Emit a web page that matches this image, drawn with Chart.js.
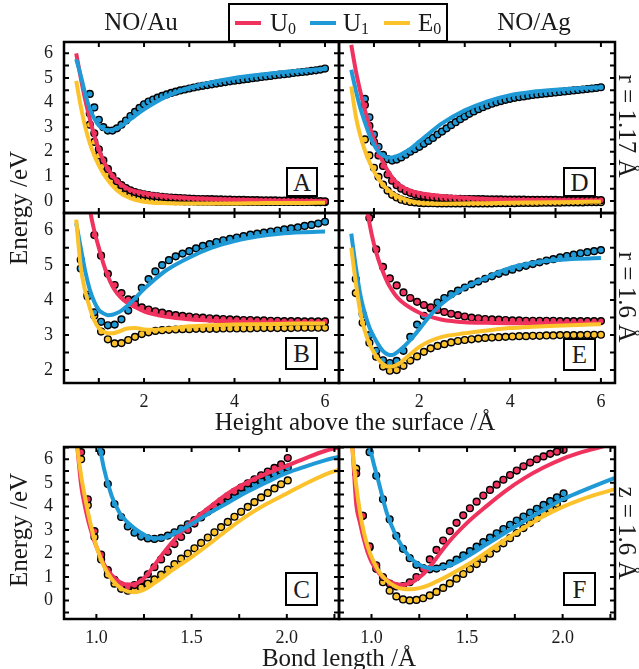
<!DOCTYPE html>
<html>
<head>
<meta charset="utf-8">
<title>NO/Au and NO/Ag potential energy curves</title>
<script src="https://cdn.jsdelivr.net/npm/chart.js@4.4.1/dist/chart.umd.min.js"></script>
<style>
  body { margin: 0; width: 639px; height: 669px; position: relative; overflow: hidden; background: #fff;
         font-family: "Liberation Serif", serif; color: #1a1a1a; }
  canvas { position: absolute; left: 0; top: 0; }
  .txt { position: absolute; white-space: nowrap; font-size: 25px; line-height: 25px; }
  .ctr { transform: translateX(-50%); }
  .rotl { transform: translate(-50%, -50%) rotate(-90deg); }
  .rotr { transform: translate(-50%, -50%) rotate(90deg); }
  .tag { position: absolute; box-sizing: border-box; border: 2px solid #000; background: #fff;
         font-size: 25px; line-height: 25px; display: flex; align-items: center; justify-content: center; }
  #legend { position: absolute; left: 228px; top: 3px; width: 220px; height: 39px; box-sizing: border-box;
            border: 2px solid #000; background: #fff; }
  #legend .key { position: absolute; top: 16px; width: 26px; height: 4px; }
  #legend .ktxt { position: absolute; top: 5px; font-size: 25px; line-height: 25px; }
  sub { font-size: 16px; vertical-align: -3px; line-height: 0; }
</style>
</head>
<body>

<canvas id="pA" width="639" height="669"></canvas>
<canvas id="pB" width="639" height="669"></canvas>
<canvas id="pC" width="639" height="669"></canvas>
<canvas id="pD" width="639" height="669"></canvas>
<canvas id="pE" width="639" height="669"></canvas>
<canvas id="pF" width="639" height="669"></canvas>

<div class="txt ctr" style="left:141px;top:9px;">NO/Au</div>
<div class="txt ctr" style="left:534px;top:9px;">NO/Ag</div>
<div class="txt ctr" style="left:355px;top:409px;">Height above the surface /Å</div>
<div class="txt ctr" style="left:339px;top:645px;">Bond length /Å</div>
<div class="txt rotl" style="left:18px;top:208px;">Energy /eV</div>
<div class="txt rotl" style="left:18px;top:530px;">Energy /eV</div>
<div class="txt rotr" style="left:627px;top:126px;">r = 1.17 Å</div>
<div class="txt rotr" style="left:627px;top:297px;">r = 1.6 Å</div>
<div class="txt rotr" style="left:627px;top:533px;">z = 1.6 Å</div>

<div class="tag" style="left:286px;top:167px;width:32px;height:30px;">A</div>
<div class="tag" style="left:563px;top:167px;width:33px;height:30px;">D</div>
<div class="tag" style="left:285px;top:337px;width:33px;height:33px;">B</div>
<div class="tag" style="left:563px;top:338px;width:33px;height:33px;">E</div>
<div class="tag" style="left:285px;top:572px;width:33px;height:34px;">C</div>
<div class="tag" style="left:563px;top:572px;width:33px;height:34px;">F</div>

<div id="legend">
  <span class="key" style="left:5px;background:#f0325f;"></span><span class="ktxt" style="left:40px;">U<sub>0</sub></span>
  <span class="key" style="left:80px;background:#1f9ad6;"></span><span class="ktxt" style="left:113px;">U<sub>1</sub></span>
  <span class="key" style="left:154px;background:#fcc22c;"></span><span class="ktxt" style="left:188px;">E<sub>0</sub></span>
</div>

<script>
// colours: U0, U1, E0
const seriesColors = ['#f0325f', '#1f9ad6', '#fcc22c'];

// ---- heights above the surface (Å) ----
// sample positions of the fitted curves
const zLine = [0.5, 0.6, 0.7, 0.8, 0.9, 1.0, 1.1, 1.2, 1.3, 1.4, 1.5, 1.6, 1.8, 2.0, 2.2, 2.5, 3.0, 3.5, 4.0, 4.5, 5.0, 5.5, 6.0];
// positions of the computed points, panels A and D
const zPtsA = [0.8, 0.9, 1.0, 1.1, 1.2, 1.3, 1.4, 1.5, 1.6, 1.7, 1.8, 1.9, 2.0, 2.1, 2.2, 2.3, 2.4, 2.5, 2.6, 2.7,
  2.8, 2.9, 3.0, 3.1, 3.2, 3.3, 3.4, 3.5, 3.6, 3.7, 3.8, 3.9, 4.0, 4.1, 4.2, 4.3, 4.4, 4.5, 4.6, 4.7,
  4.8, 4.9, 5.0, 5.1, 5.2, 5.3, 5.4, 5.5, 5.6, 5.7, 5.8, 5.9, 6.0];
// positions of the computed points, panels B and E
const zPtsB = [0.6, 0.75, 0.9, 1.05, 1.2, 1.35, 1.5, 1.65, 1.8, 1.95, 2.1, 2.25, 2.4, 2.55, 2.7, 2.85, 3.0, 3.15,
  3.3, 3.45, 3.6, 3.75, 3.9, 4.05, 4.2, 4.35, 4.5, 4.65, 4.8, 4.95, 5.1, 5.25, 5.4, 5.55, 5.7, 5.85, 6.0];

// ---- bond lengths (Å) ----
const rLine = [0.88, 0.9, 0.92, 0.94, 0.96, 0.98, 1.0, 1.04, 1.08, 1.12, 1.16, 1.2, 1.25, 1.3, 1.35, 1.4, 1.5, 1.6, 1.7, 1.8, 1.9, 2.0, 2.1, 2.2, 2.27];
const rPts = [0.92, 0.955, 0.99, 1.025, 1.06, 1.095, 1.13, 1.165, 1.2, 1.235, 1.27, 1.305, 1.34, 1.375, 1.41, 1.445,
  1.48, 1.515, 1.55, 1.585, 1.62, 1.655, 1.69, 1.725, 1.76, 1.795, 1.83, 1.865, 1.9, 1.935, 1.97, 2.005];

// ---- panel A: NO/Au, r = 1.17 Å ----
const aU0 = [6.0, 5.0, 4.1, 3.35, 2.65, 2.1, 1.65, 1.3, 1.03, 0.82, 0.66, 0.54, 0.4, 0.32, 0.26, 0.19, 0.12, 0.08, 0.05, 0.03, 0.01, 0.0, -0.01];
const aU1 = [5.76, 5.1, 4.35, 3.75, 3.35, 3.07, 2.93, 2.87, 2.88, 2.95, 3.05, 3.18, 3.46, 3.72, 3.95, 4.25, 4.6, 4.83, 5.0, 5.12, 5.22, 5.3, 5.37];
const aE0 = [4.88, 3.85, 3.0, 2.35, 1.85, 1.45, 1.12, 0.85, 0.62, 0.44, 0.3, 0.19, 0.05, -0.03, -0.07, -0.09, -0.1, -0.1, -0.1, -0.09, -0.08, -0.08, -0.07];
const aU0pts = [3.55, 2.75, 2.1, 1.65, 1.3, 1.02, 0.8, 0.64, 0.52, 0.43, 0.36, 0.31, 0.27, 0.24, 0.21, 0.19, 0.17, 0.15, 0.14, 0.13,
  0.12, 0.11, 0.1, 0.09, 0.08, 0.08, 0.07, 0.07, 0.06, 0.06, 0.05, 0.05, 0.04, 0.04, 0.04, 0.03, 0.03, 0.03, 0.02, 0.02,
  0.02, 0.02, 0.01, 0.01, 0.01, 0.01, 0.0, 0.0, 0.0, 0.0, -0.01, -0.01, -0.02];
const aU1pts = [4.35, 3.8, 3.3, 3.0, 2.86, 2.86, 2.95, 3.1, 3.27, 3.45, 3.62, 3.78, 3.93, 4.04, 4.12, 4.2, 4.27, 4.33, 4.39, 4.44,
  4.49, 4.53, 4.57, 4.61, 4.65, 4.68, 4.71, 4.74, 4.77, 4.8, 4.83, 4.86, 4.89, 4.91, 4.94, 4.96, 4.99, 5.01, 5.04, 5.06,
  5.08, 5.11, 5.13, 5.15, 5.17, 5.2, 5.22, 5.24, 5.26, 5.29, 5.31, 5.34, 5.38];
const aE0pts = [3.1, 2.4, 1.85, 1.42, 1.1, 0.85, 0.65, 0.5, 0.38, 0.29, 0.22, 0.16, 0.12, 0.09, 0.06, 0.04, 0.02, 0.01, 0.0, -0.01,
  -0.01, -0.02, -0.02, -0.02, -0.03, -0.03, -0.03, -0.03, -0.04, -0.04, -0.04, -0.04, -0.04, -0.04, -0.04, -0.04, -0.04, -0.04, -0.04, -0.04,
  -0.04, -0.04, -0.04, -0.04, -0.04, -0.04, -0.04, -0.04, -0.04, -0.04, -0.05, -0.05, -0.05];

// ---- panel D: NO/Ag, r = 1.17 Å ----
const dU0 = [6.34, 5.3, 4.45, 3.7, 3.05, 2.5, 2.0, 1.58, 1.24, 0.96, 0.75, 0.6, 0.42, 0.32, 0.26, 0.2, 0.13, 0.08, 0.05, 0.04, 0.03, 0.02, 0.02];
const dU1 = [5.33, 4.5, 3.78, 3.2, 2.68, 2.28, 2.0, 1.84, 1.77, 1.77, 1.82, 1.9, 2.12, 2.42, 2.72, 3.15, 3.68, 4.05, 4.3, 4.44, 4.52, 4.58, 4.62];
const dE0 = [4.65, 3.45, 2.65, 2.05, 1.58, 1.2, 0.9, 0.66, 0.47, 0.32, 0.2, 0.12, 0.0, -0.07, -0.1, -0.11, -0.1, -0.09, -0.07, -0.06, -0.05, -0.04, -0.03];
const dU0pts = [3.9, 3.05, 2.4, 1.85, 1.42, 1.07, 0.82, 0.64, 0.5, 0.4, 0.33, 0.27, 0.23, 0.2, 0.17, 0.15, 0.13, 0.12, 0.11, 0.1,
  0.09, 0.09, 0.08, 0.08, 0.07, 0.07, 0.07, 0.06, 0.06, 0.06, 0.06, 0.05, 0.05, 0.05, 0.05, 0.05, 0.04, 0.04, 0.04, 0.04,
  0.04, 0.04, 0.04, 0.03, 0.03, 0.03, 0.03, 0.03, 0.03, 0.03, 0.03, 0.03, 0.03];
const dU1pts = [4.15, 3.4, 2.7, 2.2, 1.87, 1.7, 1.64, 1.68, 1.77, 1.88, 2.0, 2.1, 2.2, 2.32, 2.44, 2.56, 2.7, 2.82, 2.95, 3.08,
  3.2, 3.32, 3.43, 3.54, 3.64, 3.73, 3.81, 3.88, 3.95, 4.01, 4.06, 4.11, 4.15, 4.19, 4.22, 4.25, 4.28, 4.31, 4.33, 4.35,
  4.37, 4.39, 4.41, 4.43, 4.45, 4.47, 4.49, 4.51, 4.53, 4.55, 4.57, 4.59, 4.62];
const dE0pts = [2.5, 1.85, 1.35, 0.98, 0.66, 0.42, 0.25, 0.14, 0.05, 0.0, -0.04, -0.06, -0.08, -0.09, -0.09, -0.09, -0.1, -0.1, -0.1, -0.1,
  -0.1, -0.1, -0.1, -0.1, -0.1, -0.1, -0.1, -0.1, -0.1, -0.09, -0.09, -0.09, -0.09, -0.09, -0.08, -0.08, -0.08, -0.08, -0.08, -0.07,
  -0.07, -0.07, -0.07, -0.07, -0.06, -0.06, -0.06, -0.06, -0.06, -0.05, -0.05, -0.05, -0.05];

// ---- panel B: NO/Au, r = 1.6 Å ----
const bU0 = [9.5, 8.4, 7.5, 6.6, 5.98, 5.5, 5.05, 4.68, 4.4, 4.2, 4.06, 3.95, 3.8, 3.68, 3.6, 3.52, 3.45, 3.41, 3.39, 3.37, 3.36, 3.35, 3.35];
const bU1 = [6.2, 5.5, 4.82, 4.3, 3.95, 3.72, 3.62, 3.57, 3.58, 3.63, 3.7, 3.8, 4.05, 4.32, 4.55, 4.86, 5.22, 5.5, 5.69, 5.82, 5.9, 5.94, 5.96];
const bE0 = [6.3, 4.95, 4.25, 3.78, 3.42, 3.2, 3.1, 3.05, 3.05, 3.08, 3.13, 3.18, 3.2, 3.16, 3.15, 3.18, 3.25, 3.28, 3.3, 3.31, 3.32, 3.33, 3.33];
const bU0pts = [null, null, 5.86, 5.27, 4.75, 4.43, 4.2, 4.02, 3.88, 3.79, 3.73, 3.68, 3.64, 3.6, 3.57, 3.55, 3.53, 3.51, 3.5,
  3.48, 3.47, 3.46, 3.45, 3.44, 3.43, 3.43, 3.42, 3.42, 3.41, 3.41, 3.4, 3.4, 3.4, 3.39, 3.39, 3.39, 3.39];
const bU1pts = [4.9, 4.1, 3.65, 3.38, 3.28, 3.3, 3.45, 3.7, 4.02, 4.35, 4.6, 4.82, 5.0, 5.14, 5.25, 5.33, 5.4, 5.48, 5.55,
  5.6, 5.66, 5.71, 5.75, 5.79, 5.83, 5.87, 5.9, 5.93, 5.96, 5.99, 6.02, 6.05, 6.08, 6.12, 6.15, 6.19, 6.24];
const bE0pts = [5.15, 4.15, 3.55, 3.1, 2.88, 2.76, 2.77, 2.86, 2.95, 3.03, 3.08, 3.12, 3.14, 3.15, 3.16, 3.17, 3.17, 3.18, 3.18,
  3.18, 3.18, 3.19, 3.19, 3.19, 3.19, 3.19, 3.2, 3.2, 3.2, 3.2, 3.2, 3.2, 3.21, 3.21, 3.21, 3.21, 3.21];

// ---- panel E: NO/Ag, r = 1.6 Å ----
const eU0 = [10.0, 9.0, 8.0, 7.0, 6.2, 5.6, 5.15, 4.8, 4.5, 4.28, 4.1, 3.97, 3.78, 3.64, 3.54, 3.44, 3.37, 3.35, 3.34, 3.34, 3.34, 3.34, 3.34];
const eU1 = [5.9, 4.95, 4.15, 3.62, 3.22, 2.95, 2.72, 2.54, 2.45, 2.43, 2.5, 2.6, 2.86, 3.17, 3.5, 3.9, 4.35, 4.66, 4.92, 5.07, 5.14, 5.18, 5.2];
const eE0 = [5.5, 4.5, 3.65, 3.12, 2.75, 2.5, 2.3, 2.17, 2.1, 2.1, 2.15, 2.23, 2.45, 2.66, 2.81, 2.95, 3.05, 3.13, 3.2, 3.24, 3.27, 3.29, 3.31];
const eU0pts = [null, null, 6.35, 5.45, 4.95, 4.62, 4.42, 4.22, 4.06, 3.95, 3.86, 3.79, 3.72, 3.66, 3.61, 3.57, 3.53, 3.5, 3.48,
  3.46, 3.45, 3.44, 3.43, 3.42, 3.42, 3.41, 3.41, 3.41, 3.41, 3.41, 3.4, 3.4, 3.4, 3.4, 3.4, 3.4, 3.4];
const eU1pts = [4.6, 3.6, 3.0, 2.55, 2.28, 2.2, 2.26, 2.55, 2.95, 3.3, 3.55, 3.76, 3.93, 4.06, 4.17, 4.27, 4.36, 4.45, 4.53,
  4.61, 4.68, 4.75, 4.81, 4.87, 4.93, 4.98, 5.03, 5.08, 5.13, 5.17, 5.22, 5.26, 5.3, 5.34, 5.37, 5.4, 5.43];
const eE0pts = [4.2, 3.35, 2.78, 2.38, 2.1, 1.98, 2.0, 2.12, 2.27, 2.39, 2.52, 2.62, 2.69, 2.74, 2.79, 2.83, 2.86, 2.88, 2.9,
  2.92, 2.93, 2.94, 2.95, 2.96, 2.97, 2.97, 2.98, 2.98, 2.99, 2.99, 3.0, 3.0, 3.0, 3.0, 3.01, 3.01, 3.01];

// ---- panel C: NO/Au, z = 1.6 Å ----
const cU0 = [8.0, 6.5, 4.9, 4.0, 3.3, 2.75, 2.3, 1.55, 1.08, 0.8, 0.68, 0.7, 0.95, 1.45, 2.0, 2.5, 3.35, 4.0, 4.6, 5.05, 5.41, 5.72, 6.05, 6.35, 6.5];
const cU1 = [null, null, null, null, null, null, 7.3, 5.6, 4.45, 3.75, 3.35, 3.07, 2.8, 2.65, 2.66, 2.8, 3.25, 3.75, 4.2, 4.65, 5.05, 5.42, 5.7, 5.95, 6.1];
const cE0 = [8.2, 6.5, 5.3, 4.4, 3.6, 2.9, 2.3, 1.45, 0.92, 0.58, 0.4, 0.36, 0.46, 0.72, 1.0, 1.3, 1.85, 2.45, 3.08, 3.65, 4.13, 4.55, 4.97, 5.35, 5.55];
const cU0pts = [6.3, 4.3, 2.95, 1.95, 1.3, 0.88, 0.65, 0.58, 0.66, 0.85, 1.12, 1.42, 1.75, 2.07, 2.4, 2.7,
  3.0, 3.27, 3.53, 3.78, 4.0, 4.22, 4.43, 4.62, 4.8, 4.98, 5.15, 5.32, 5.48, 5.63, 5.78, 6.05];
const cU1pts = [null, null, null, 6.3, 4.95, 4.1, 3.55, 3.15, 2.88, 2.72, 2.64, 2.62, 2.66, 2.76, 2.9, 3.06,
  3.24, 3.42, 3.6, 3.78, 3.96, 4.13, 4.3, 4.46, 4.62, 4.78, 4.93, 5.08, 5.22, 5.36, 5.5, 5.65];
const cE0pts = [6.0, 4.05, 2.7, 1.75, 1.1, 0.72, 0.5, 0.42, 0.45, 0.56, 0.72, 0.9, 1.1, 1.32, 1.55, 1.78,
  2.0, 2.22, 2.45, 2.68, 2.9, 3.12, 3.34, 3.56, 3.77, 3.98, 4.18, 4.38, 4.57, 4.76, 4.94, 5.1];

// ---- panel F: NO/Ag, z = 1.6 Å ----
const fU0 = [7.8, 6.5, 4.1, 3.3, 2.6, 2.05, 1.65, 1.15, 0.88, 0.72, 0.67, 0.73, 0.98, 1.38, 1.92, 2.45, 3.3, 4.0, 4.65, 5.2, 5.65, 6.02, 6.3, 6.52, 6.65];
const fU1 = [null, null, null, null, null, 7.0, 6.2, 4.95, 3.72, 2.9, 2.3, 1.85, 1.52, 1.38, 1.37, 1.46, 1.87, 2.38, 2.88, 3.38, 3.85, 4.3, 4.65, 4.98, 5.2];
const fE0 = [7.6, 6.4, 4.9, 3.75, 2.9, 2.3, 1.85, 1.22, 0.85, 0.62, 0.5, 0.48, 0.53, 0.66, 0.85, 1.05, 1.51, 2.05, 2.6, 3.1, 3.58, 3.98, 4.3, 4.56, 4.72];
const fU0pts = [5.4, 3.6, 2.3, 1.5, 1.0, 0.72, 0.6, 0.62, 0.78, 1.0, 1.35, 1.75, 2.15, 2.55, 2.95, 3.3,
  3.62, 3.92, 4.2, 4.46, 4.7, 4.92, 5.13, 5.33, 5.52, 5.7, 5.86, 6.0, 6.12, 6.23, 6.32, 6.4];
const fU1pts = [null, null, 6.3, 5.3, 4.3, 3.45, 2.75, 2.2, 1.8, 1.52, 1.38, 1.33, 1.36, 1.45, 1.58, 1.74,
  1.92, 2.1, 2.29, 2.48, 2.67, 2.86, 3.04, 3.22, 3.4, 3.57, 3.74, 3.9, 4.06, 4.22, 4.38, 4.55];
const fE0pts = [5.6, 3.6, 2.25, 1.35, 0.78, 0.42, 0.18, 0.05, 0.01, 0.03, 0.1, 0.22, 0.37, 0.54, 0.73, 0.93,
  1.13, 1.34, 1.55, 1.77, 1.99, 2.21, 2.43, 2.65, 2.87, 3.08, 3.29, 3.5, 3.7, 3.9, 4.1, 4.35];

// ---- ticks ----
const zTicks = [1, 2, 3, 4, 5, 6];
const zLabels = [2, 4, 6];
const rTicks = [1.0, 1.25, 1.5, 1.75, 2.0, 2.25];
const rLabels = [1.0, 1.5, 2.0];
const yTicksA = [0, 0.5, 1, 1.5, 2, 2.5, 3, 3.5, 4, 4.5, 5, 5.5, 6];
const yLabelsA = [0, 1, 2, 3, 4, 5, 6];
const yTicksB = [2, 2.5, 3, 3.5, 4, 4.5, 5, 5.5, 6];
const yLabelsB = [2, 3, 4, 5, 6];
const yTicksC = [-0.5, 0, 0.5, 1, 1.5, 2, 2.5, 3, 3.5, 4, 4.5, 5, 5.5, 6, 6.5];

// frame with inward ticks on all four sides
const framePlugin = {
    id: 'frame',
    afterDatasetsDraw(chart, args, opts) {
        const { ctx, chartArea: a, scales } = chart;
        ctx.save();
        ctx.strokeStyle = '#000';
        ctx.lineWidth = 2;
        ctx.beginPath();
        opts.xTicks.forEach(v => {
            const px = scales.x.getPixelForValue(v);
            ctx.moveTo(px, a.bottom); ctx.lineTo(px, a.bottom - 5);
            ctx.moveTo(px, a.top); ctx.lineTo(px, a.top + 5);
        });
        opts.yTicks.forEach(v => {
            const py = scales.y.getPixelForValue(v);
            ctx.moveTo(a.left, py); ctx.lineTo(a.left + 5, py);
            ctx.moveTo(a.right, py); ctx.lineTo(a.right - 5, py);
        });
        ctx.stroke();
        ctx.lineWidth = 2.5;
        ctx.strokeRect(a.left, a.top, a.right - a.left, a.bottom - a.top);
        ctx.restore();
    }
};

const panels = [
    { id: 'pA', box: [64, 42, 339, 213], xr: [0.23, 6.31], yr: [-0.49, 6.46], lx: zLine, lines: [aU0, aU1, aE0],
      px: zPtsA, pts: [aU0pts, aU1pts, aE0pts], xt: zTicks, yt: yTicksA, xl: null, yl: yLabelsA },
    { id: 'pD', box: [339, 42, 615, 213], xr: [0.23, 6.31], yr: [-0.49, 6.46], lx: zLine, lines: [dU0, dU1, dE0],
      px: zPtsA, pts: [dU0pts, dU1pts, dE0pts], xt: zTicks, yt: yTicksA, xl: null, yl: null },
    { id: 'pB', box: [64, 213, 339, 383], xr: [0.23, 6.31], yr: [1.63, 6.49], lx: zLine, lines: [bU0, bU1, bE0],
      px: zPtsB, pts: [bU0pts, bU1pts, bE0pts], xt: zTicks, yt: yTicksB, xl: zLabels, yl: yLabelsB },
    { id: 'pE', box: [339, 213, 615, 383], xr: [0.23, 6.31], yr: [1.63, 6.49], lx: zLine, lines: [eU0, eU1, eE0],
      px: zPtsB, pts: [eU0pts, eU1pts, eE0pts], xt: zTicks, yt: yTicksB, xl: zLabels, yl: null },
    { id: 'pC', box: [64, 447, 339, 619], xr: [0.83, 2.274], yr: [-0.78, 6.52], lx: rLine, lines: [cU0, cU1, cE0],
      px: rPts, pts: [cU0pts, cU1pts, cE0pts], xt: rTicks, yt: yTicksC, xl: rLabels, yl: yLabelsA, fixed: true },
    { id: 'pF', box: [339, 447, 615, 619], xr: [0.83, 2.274], yr: [-0.78, 6.52], lx: rLine, lines: [fU0, fU1, fE0],
      px: rPts, pts: [fU0pts, fU1pts, fE0pts], xt: rTicks, yt: yTicksC, xl: rLabels, yl: null, fixed: true }
];

const Y_AXIS_W = 44;
const X_AXIS_H = 28;
const lineOrder = [3, 2, 1];   // E0 drawn on top, then U1, then U0
const tickFont = { family: 'Liberation Serif', size: 18 };

function makePanel(p) {
    const datasets = [];
    p.lines.forEach((ys, i) => {
        datasets.push({
            type: 'line',
            data: p.lx.map((x, j) => ({ x: x, y: ys[j] })),
            borderColor: seriesColors[i],
            borderWidth: 4,
            pointRadius: 0,
            cubicInterpolationMode: 'monotone',
            fill: false,
            clip: 0,
            order: lineOrder[i]
        });
    });
    p.pts.forEach((ys, i) => {
        datasets.push({
            type: 'scatter',
            data: p.px.map((x, j) => ({ x: x, y: ys[j] })),
            backgroundColor: seriesColors[i],
            borderColor: '#000',
            borderWidth: 1.4,
            pointRadius: 3.4,
            clip: 0,
            order: 10 + i
        });
    });

    const b = p.box;
    new Chart(document.getElementById(p.id), {
        type: 'scatter',
        data: { datasets: datasets },
        options: {
            responsive: false,
            animation: false,
            devicePixelRatio: 1,
            events: [],
            layout: {
                padding: {
                    left: b[0] - (p.yl ? Y_AXIS_W : 0),
                    top: b[1],
                    right: 639 - b[2],
                    bottom: 669 - b[3] - (p.xl ? X_AXIS_H : 0)
                }
            },
            scales: {
                x: {
                    type: 'linear', min: p.xr[0], max: p.xr[1], display: !!p.xl,
                    grid: { display: false, drawTicks: false }, border: { display: false },
                    afterBuildTicks: s => { s.ticks = (p.xl || []).map(v => ({ value: v })); },
                    afterFit: s => { s.height = p.xl ? X_AXIS_H : 0; },
                    ticks: { autoSkip: false, maxRotation: 0, padding: 8, color: '#1a1a1a', font: tickFont,
                             callback: v => p.fixed ? v.toFixed(1) : String(v) }
                },
                y: {
                    type: 'linear', min: p.yr[0], max: p.yr[1], display: !!p.yl,
                    grid: { display: false, drawTicks: false }, border: { display: false },
                    afterBuildTicks: s => { s.ticks = (p.yl || []).map(v => ({ value: v })); },
                    afterFit: s => { s.width = p.yl ? Y_AXIS_W : 0; },
                    ticks: { autoSkip: false, padding: 11, color: '#1a1a1a', font: tickFont }
                }
            },
            plugins: {
                legend: { display: false },
                tooltip: { enabled: false },
                frame: { xTicks: p.xt, yTicks: p.yt }
            }
        },
        plugins: [framePlugin]
    });
}

panels.forEach(makePanel);
</script>
</body>
</html>
